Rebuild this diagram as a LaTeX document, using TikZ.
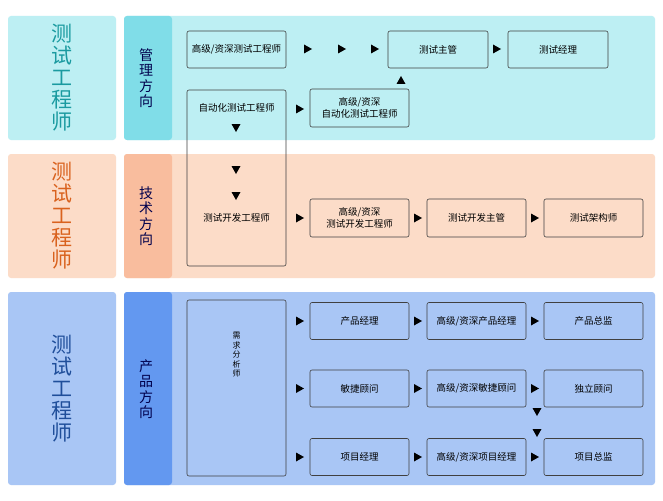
\documentclass[tikz,border=0pt]{standalone}
\usepackage{fontspec}
\setmainfont{Noto Sans CJK SC}
\begin{document}
\begin{tikzpicture}[x=1pt,y=-1pt,
  box/.style={draw=black!75,line width=0.6pt,rounded corners=2pt,fill=none,font=\fontsize{9.5}{11.5}\selectfont,align=center,inner sep=0pt},
  panel/.style={rounded corners=3pt},
  ttl/.style={font=\fontsize{21}{22}\selectfont,align=center},
  sub/.style={font=\fontsize{14}{15.5}\selectfont,align=center,text=blue!30!black}]
\definecolor{c1}{HTML}{BDEFF3}\definecolor{c1s}{HTML}{80DDE8}
\definecolor{c2}{HTML}{FCDCC8}\definecolor{c2s}{HTML}{F9BD9E}
\definecolor{c3}{HTML}{A9C6F5}\definecolor{c3s}{HTML}{6398F0}
\definecolor{t1}{HTML}{1A9AA0}\definecolor{t2}{HTML}{D9621E}\definecolor{t3}{HTML}{1F4E9A}
\useasboundingbox[fill=white] (0,0) rectangle (663,500);
\newcommand\rt[2]{\fill (#1-4,#2-4.5) -- (#1+4,#2) -- (#1-4,#2+4.5) -- cycle;}
\newcommand\dt[2]{\fill (#1-4.5,#2-4) -- (#1+4.5,#2-4) -- (#1,#2+4) -- cycle;}
\newcommand\ut[2]{\fill (#1-4.5,#2+4) -- (#1+4.5,#2+4) -- (#1,#2-4) -- cycle;}
% bands
\foreach \ya/\yb/\c in {16/140/1,154/278/2,292/485/3}{
  \fill[panel,c\c] (8,\ya) rectangle (116,\yb);
  \fill[panel,c\c] (124,\ya) rectangle (655,\yb);
  \fill[c\c s,rounded corners=3pt] (124,\ya) rectangle (172,\yb);
  \fill[c\c s] (160,\ya) rectangle (168,\yb);
}
\node[ttl,text=t1] (T1) at (62,78) {测\\试\\工\\程\\师};
\node[ttl,text=t2] (T2) at (62,216) {测\\试\\工\\程\\师};
\node[ttl,text=t3] (T3) at (62,389) {测\\试\\工\\程\\师};
\node[sub] (S1) at (146,78) {管\\理\\方\\向};
\node[sub] (S2) at (146,216) {技\\术\\方\\向};
\node[sub] (S3) at (146,389) {产\\品\\方\\向};
% band 1
\node[box,minimum width=99,minimum height=37] (a1) at (236.5,49.5) {高级/资深测试工程师};
\node[box,minimum width=100,minimum height=37] (a2) at (438,49.5) {测试主管};
\node[box,minimum width=100,minimum height=37] (a3) at (558,49.5) {测试经理};
\draw[black!75,line width=0.6pt,rounded corners=2pt] (187,90) rectangle (286,266);
\node[font=\fontsize{9.5}{11.5}\selectfont] (a4) at (236.5,108) {自动化测试工程师};
\node[box,minimum width=99,minimum height=38] (a5) at (359.5,108) {高级/资深\\自动化测试工程师};
\foreach \x in {308,342,375}{\rt{\x}{49}}
\rt{497}{49}
\rt{300}{109}
\ut{401}{80}
\dt{236}{128}\dt{236}{170}\dt{236}{196}
% band 2
\node[font=\fontsize{9.5}{11.5}\selectfont] (b1) at (236.5,218) {测试开发工程师};
\node[box,minimum width=99,minimum height=38] (b2) at (359.5,218) {高级/资深\\测试开发工程师};
\node[box,minimum width=99,minimum height=38] (b3) at (476.5,218) {测试开发主管};
\node[box,minimum width=99,minimum height=38] (b4) at (593.5,218) {测试架构师};
\foreach \x in {300,418,535}{\rt{\x}{218}}
% band 3
\node[box,minimum width=99,minimum height=176] (c0) at (236.5,388) {};
\node[font=\fontsize{8}{9.5}\selectfont,align=center] (c0t) at (236.5,355) {需\\求\\分\\析\\师};
\foreach \y/\p/\q/\r in {321/产品经理/{高级/资深产品经理}/产品总监,388.5/敏捷顾问/{高级/资深敏捷顾问}/独立顾问,457/项目经理/{高级/资深项目经理}/项目总监}{
  \node[box,minimum width=99,minimum height=37] at (359.5,\y) {\p};
  \node[box,minimum width=99,minimum height=37] at (476.5,\y) {\q};
  \node[box,minimum width=99,minimum height=37] at (593.5,\y) {\r};
  \foreach \x in {300,418,535}{\rt{\x}{\y}}
}
\dt{537}{412}\dt{537}{433}
\end{tikzpicture}
\end{document}
